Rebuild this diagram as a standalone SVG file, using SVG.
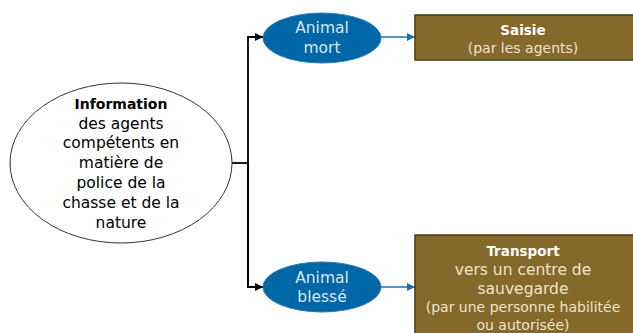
<svg xmlns="http://www.w3.org/2000/svg" width="633" height="333" viewBox="0 0 633 333">
<defs>
<marker id="ah" viewBox="0 0 10 10" refX="10" refY="5" markerWidth="8" markerHeight="8" markerUnits="userSpaceOnUse" orient="auto"><path d="M0,0 L10,5 L0,10 z" fill="#000"/></marker>
<marker id="ahb" viewBox="0 0 10 10" refX="10" refY="5" markerWidth="8" markerHeight="8" markerUnits="userSpaceOnUse" orient="auto"><path d="M0,0 L10,5 L0,10 z" fill="#1f6fb0"/></marker>
</defs>
<style>
text{font-family:"DejaVu Sans","Liberation Sans",sans-serif;text-anchor:middle}
.src{fill:#fff;stroke:#333;stroke-width:1}
.blue{fill:#0067a6;stroke:#2a78b8;stroke-width:1}
.box{fill:#85692b;stroke:#4a3a14;stroke-width:1.5}
.t{font-size:15.5px;fill:#000}
.tb{font-size:14px;font-weight:bold;fill:#000}
.w{font-size:15.5px;fill:#d8e6f2}
.bh{font-size:13.5px;font-weight:bold;fill:#fff}
.bt{font-size:15.5px;fill:#eee4cc}
.bs{font-size:14px;fill:#eee4cc}
.k{fill:none;stroke:#000;stroke-width:1.8}
.kb{fill:none;stroke:#1f6fb0;stroke-width:1.3}
</style>
<g id="connectors">
<path class="k" d="M232,163 H248"/>
<path class="k" d="M248,287 V37 H263" marker-end="url(#ah)"/>
<path class="k" d="M248,163 V287 H263" marker-end="url(#ah)"/>
<path class="kb" d="M381,37 H415" marker-end="url(#ahb)"/>
<path class="kb" d="M381,287 H415" marker-end="url(#ahb)"/>
</g>
<g id="info">
<ellipse class="src" cx="121" cy="163" rx="111" ry="80"/>
<text class="tb" x="121" y="109">Information</text>
<text class="t" x="121" y="129">des agents</text>
<text class="t" x="121" y="148">compétents en</text>
<text class="t" x="121" y="168">matière de</text>
<text class="t" x="121" y="188">police de la</text>
<text class="t" x="121" y="208">chasse et de la</text>
<text class="t" x="121" y="228">nature</text>
</g>
<g id="mort">
<ellipse class="blue" cx="322" cy="38" rx="59" ry="25"/>
<text class="w" x="322" y="33">Animal</text>
<text class="w" x="322" y="53">mort</text>
</g>
<g id="blesse">
<ellipse class="blue" cx="322" cy="287" rx="59" ry="25"/>
<text class="w" x="322" y="283">Animal</text>
<text class="w" x="322" y="302">blessé</text>
</g>
<g id="saisie">
<rect class="box" x="415" y="15" width="222" height="45"/>
<text class="bh" x="523" y="35">Saisie</text>
<text class="bs" x="523" y="53">(par les agents)</text>
</g>
<g id="transport">
<rect class="box" x="415" y="235" width="222" height="105"/>
<text class="bh" x="523" y="256">Transport</text>
<text class="bt" x="523" y="275">vers un centre de</text>
<text class="bt" x="523" y="294">sauvegarde</text>
<text class="bs" x="523" y="312">(par une personne habilitée</text>
<text class="bs" x="523" y="330">ou autorisée)</text>
</g>
</svg>
